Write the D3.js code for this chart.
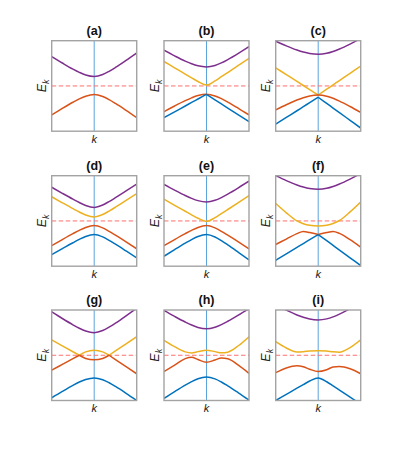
<!DOCTYPE html>
<html><head><meta charset="utf-8">
<script src="https://cdn.jsdelivr.net/npm/d3@7/dist/d3.min.js"></script>
<style>body{margin:0;background:#fff}svg{display:block}</style>
</head><body>
<svg id="chart" width="399" height="451"></svg>
<script>
// k sample grid (shared by all panels)
const kGrid = [-1, -0.75, -0.5, -0.35, -0.2, 0, 0.2, 0.35, 0.5, 0.75, 1];
const panelLabels = ["(a)","(b)","(c)","(d)","(e)","(f)","(g)","(h)","(i)"];
const xLabel = "k";

// band energies (E_k), one array per band and panel
const aPurple = [0.65,0.507,0.372,0.301,0.243,0.21,0.252,0.323,0.408,0.565,0.73];
const aOrange = [-0.64,-0.496,-0.36,-0.286,-0.226,-0.19,-0.233,-0.303,-0.387,-0.54,-0.70];

const bPurple = [0.79,0.664,0.548,0.489,0.445,0.42,0.452,0.509,0.582,0.72,0.87];
const bYellow = [0.54,0.401,0.262,0.18,0.099,0.02,0.112,0.204,0.297,0.453,0.61];
const bOrange = [-0.57,-0.443,-0.325,-0.263,-0.213,-0.185,-0.221,-0.281,-0.356,-0.494,-0.64];
const bBlue   = [-0.70,-0.571,-0.443,-0.365,-0.288,-0.185,-0.306,-0.397,-0.488,-0.639,-0.79];

const cPurple = [0.99,0.885,0.793,0.749,0.717,0.70,0.721,0.762,0.816,0.926,1.05];
const cYellow = [0.40,0.25,0.10,0.01,-0.08,-0.20,-0.072,0.024,0.12,0.28,0.44];
const cOrange = [-0.53,-0.415,-0.312,-0.26,-0.221,-0.20,-0.226,-0.273,-0.334,-0.454,-0.585];
const cBlue   = [-0.845,-0.696,-0.548,-0.458,-0.369,-0.25,-0.386,-0.488,-0.59,-0.76,-0.93];

const dPurple = [0.745,0.611,0.481,0.407,0.343,0.30,0.353,0.429,0.514,0.663,0.815];
const dYellow = [0.535,0.401,0.271,0.197,0.133,0.09,0.143,0.219,0.304,0.453,0.605];
const dOrange = [-0.545,-0.411,-0.281,-0.207,-0.143,-0.10,-0.153,-0.229,-0.314,-0.463,-0.615];
const dBlue   = [-0.745,-0.611,-0.481,-0.407,-0.343,-0.30,-0.353,-0.429,-0.514,-0.663,-0.815];

const ePurple = [0.81,0.682,0.562,0.499,0.449,0.42,0.456,0.517,0.593,0.732,0.88];
const eYellow = [0.48,0.346,0.214,0.135,0.059,-0.01,0.073,0.162,0.253,0.406,0.56];
const eOrange = [-0.545,-0.411,-0.281,-0.207,-0.143,-0.10,-0.153,-0.229,-0.314,-0.463,-0.615];
const eBlue   = [-0.78,-0.633,-0.491,-0.411,-0.344,-0.30,-0.354,-0.436,-0.528,-0.692,-0.86];

const fPurple = [1.0,0.89,0.795,0.75,0.717,0.70,0.721,0.762,0.816,0.926,1.05];
const fYellow = [0.385,0.18,0.0,-0.06,-0.095,-0.11,-0.093,-0.055,0.01,0.20,0.42];
const fOrange = [-0.52,-0.40,-0.28,-0.232,-0.255,-0.30,-0.255,-0.232,-0.275,-0.415,-0.58];
const fBlue   = [-0.87,-0.728,-0.585,-0.50,-0.414,-0.30,-0.437,-0.54,-0.643,-0.814,-0.985];

const gPurple = [0.96,0.812,0.673,0.597,0.536,0.50,0.546,0.62,0.709,0.871,1.04];
const gYellow = [0.34,0.209,0.078,0.0,0.075,0.11,0.075,0.0,0.095,0.252,0.41];
const gOrange = [-0.33,-0.203,-0.076,0.0,-0.07,-0.10,-0.07,0.0,-0.095,-0.252,-0.41];
const gBlue   = [-0.94,-0.798,-0.664,-0.592,-0.534,-0.50,-0.541,-0.608,-0.69,-0.841,-1.0];

const hPurple = [0.99,0.858,0.734,0.668,0.615,0.585,0.62,0.678,0.751,0.887,1.03];
const hYellow = [0.33,0.19,0.075,0.05,0.08,0.11,0.08,0.053,0.068,0.21,0.41];
const hOrange = [-0.36,-0.22,-0.075,-0.045,-0.095,-0.155,-0.105,-0.062,-0.075,-0.22,-0.40];
const hBlue   = [-0.955,-0.803,-0.659,-0.582,-0.518,-0.48,-0.522,-0.591,-0.675,-0.829,-0.99];

const iPurple = [1.116,0.997,0.891,0.839,0.80,0.78,0.804,0.849,0.91,1.03,1.164];
const iYellow = [0.30,0.16,0.074,0.08,0.092,0.10,0.092,0.075,0.068,0.17,0.34];
const iOrange = [-0.385,-0.28,-0.232,-0.255,-0.31,-0.36,-0.32,-0.26,-0.25,-0.30,-0.41];
const iBlue   = [-1.0,-0.864,-0.728,-0.648,-0.57,-0.50,-0.585,-0.675,-0.768,-0.924,-1.08];

// k values at which a band has a kink (band touching points)
const kinkCenter = [0];
const kinkPair = [-0.35, 0.35];

const colors = {blue:"#0072BD", orange:"#D95319", yellow:"#EDB120", purple:"#7E2F8E"};

const panels = [
  [{c:"purple",v:aPurple},{c:"orange",v:aOrange}],
  [{c:"purple",v:bPurple},{c:"yellow",v:bYellow},{c:"orange",v:bOrange},{c:"blue",v:bBlue,kinks:kinkCenter}],
  [{c:"purple",v:cPurple},{c:"yellow",v:cYellow,kinks:kinkCenter},{c:"orange",v:cOrange},{c:"blue",v:cBlue,kinks:kinkCenter}],
  [{c:"purple",v:dPurple},{c:"yellow",v:dYellow},{c:"orange",v:dOrange},{c:"blue",v:dBlue}],
  [{c:"purple",v:ePurple},{c:"yellow",v:eYellow},{c:"orange",v:eOrange},{c:"blue",v:eBlue}],
  [{c:"purple",v:fPurple},{c:"yellow",v:fYellow},{c:"orange",v:fOrange,kinks:kinkCenter},{c:"blue",v:fBlue,kinks:kinkCenter}],
  [{c:"purple",v:gPurple},{c:"yellow",v:gYellow,kinks:kinkPair},{c:"orange",v:gOrange,kinks:kinkPair},{c:"blue",v:gBlue}],
  [{c:"purple",v:hPurple},{c:"yellow",v:hYellow},{c:"orange",v:hOrange},{c:"blue",v:hBlue}],
  [{c:"purple",v:iPurple},{c:"yellow",v:iYellow},{c:"orange",v:iOrange},{c:"blue",v:iBlue}]
];

// layout
const colLeft = [51.7, 164, 275.7];
const rowTop = [40.7, 175.7, 310];
const W = 85, H = 90.5;

const svg = d3.select("#chart");
const font = "'Liberation Sans', Arial, Helvetica, sans-serif";

panels.forEach((bands, p) => {
  const col = p % 3, row = Math.floor(p / 3);
  const g = svg.append("g").attr("transform", `translate(${colLeft[col]},${rowTop[row]})`);
  const x = d3.scaleLinear().domain([-1, 1]).range([0, W]);
  const y = d3.scaleLinear().domain([-1, 1]).range([H, 0]);

  const clipId = "clip" + p;
  g.append("clipPath").attr("id", clipId).append("rect")
    .attr("x", 0).attr("y", 0).attr("width", W).attr("height", H);
  const plot = g.append("g").attr("clip-path", `url(#${clipId})`);

  // vertical k = 0 line
  plot.append("line").attr("x1", x(0)).attr("x2", x(0)).attr("y1", 0).attr("y2", H)
    .attr("stroke", "#4a9ad8").attr("stroke-width", 0.9);
  // Fermi level
  plot.append("line").attr("x1", 0).attr("x2", W).attr("y1", y(0)).attr("y2", y(0))
    .attr("stroke", "#ff6f6f").attr("stroke-width", 1).attr("stroke-dasharray", "4.5,2.5");

  const line = d3.line().x(d => x(d[0])).y(d => y(d[1])).curve(d3.curveMonotoneX);
  bands.forEach(b => {
    const pts = kGrid.map((k, i) => [k, b.v[i]]);
    const cuts = (b.kinks || []).map(kk => kGrid.indexOf(kk));
    const bounds = [0, ...cuts, kGrid.length - 1];
    for (let s = 0; s < bounds.length - 1; s++) {
      plot.append("path").datum(pts.slice(bounds[s], bounds[s + 1] + 1))
        .attr("d", line).attr("fill", "none")
        .attr("stroke", colors[b.c]).attr("stroke-width", 1.5)
        .attr("stroke-linejoin", "round");
    }
  });

  // axes box
  g.append("rect").attr("x", 0).attr("y", 0).attr("width", W).attr("height", H)
    .attr("fill", "none").attr("stroke", "#a3a3a3").attr("stroke-width", 1.4);

  // title
  g.append("text").attr("x", W / 2).attr("y", -6).attr("text-anchor", "middle")
    .attr("font-family", font).attr("font-weight", "bold").attr("font-size", 12.5)
    .attr("fill", "#111").text(panelLabels[p]);

  // x label
  g.append("text").attr("x", W / 2).attr("y", H + 11.5).attr("text-anchor", "middle")
    .attr("font-family", font).attr("font-style", "italic").attr("font-size", 11)
    .attr("fill", "#222").text(xLabel);

  // y label E_k
  const yl = g.append("text").attr("transform", `translate(-5.5,${H / 2}) rotate(-90)`)
    .attr("text-anchor", "middle").attr("font-family", font).attr("font-size", 12.5)
    .attr("fill", "#222");
  yl.append("tspan").attr("font-style", "italic").text("E");
  yl.append("tspan").attr("font-style", "italic").attr("font-size", 9).attr("dy", 3).text("k");
});
</script>
</body></html>
